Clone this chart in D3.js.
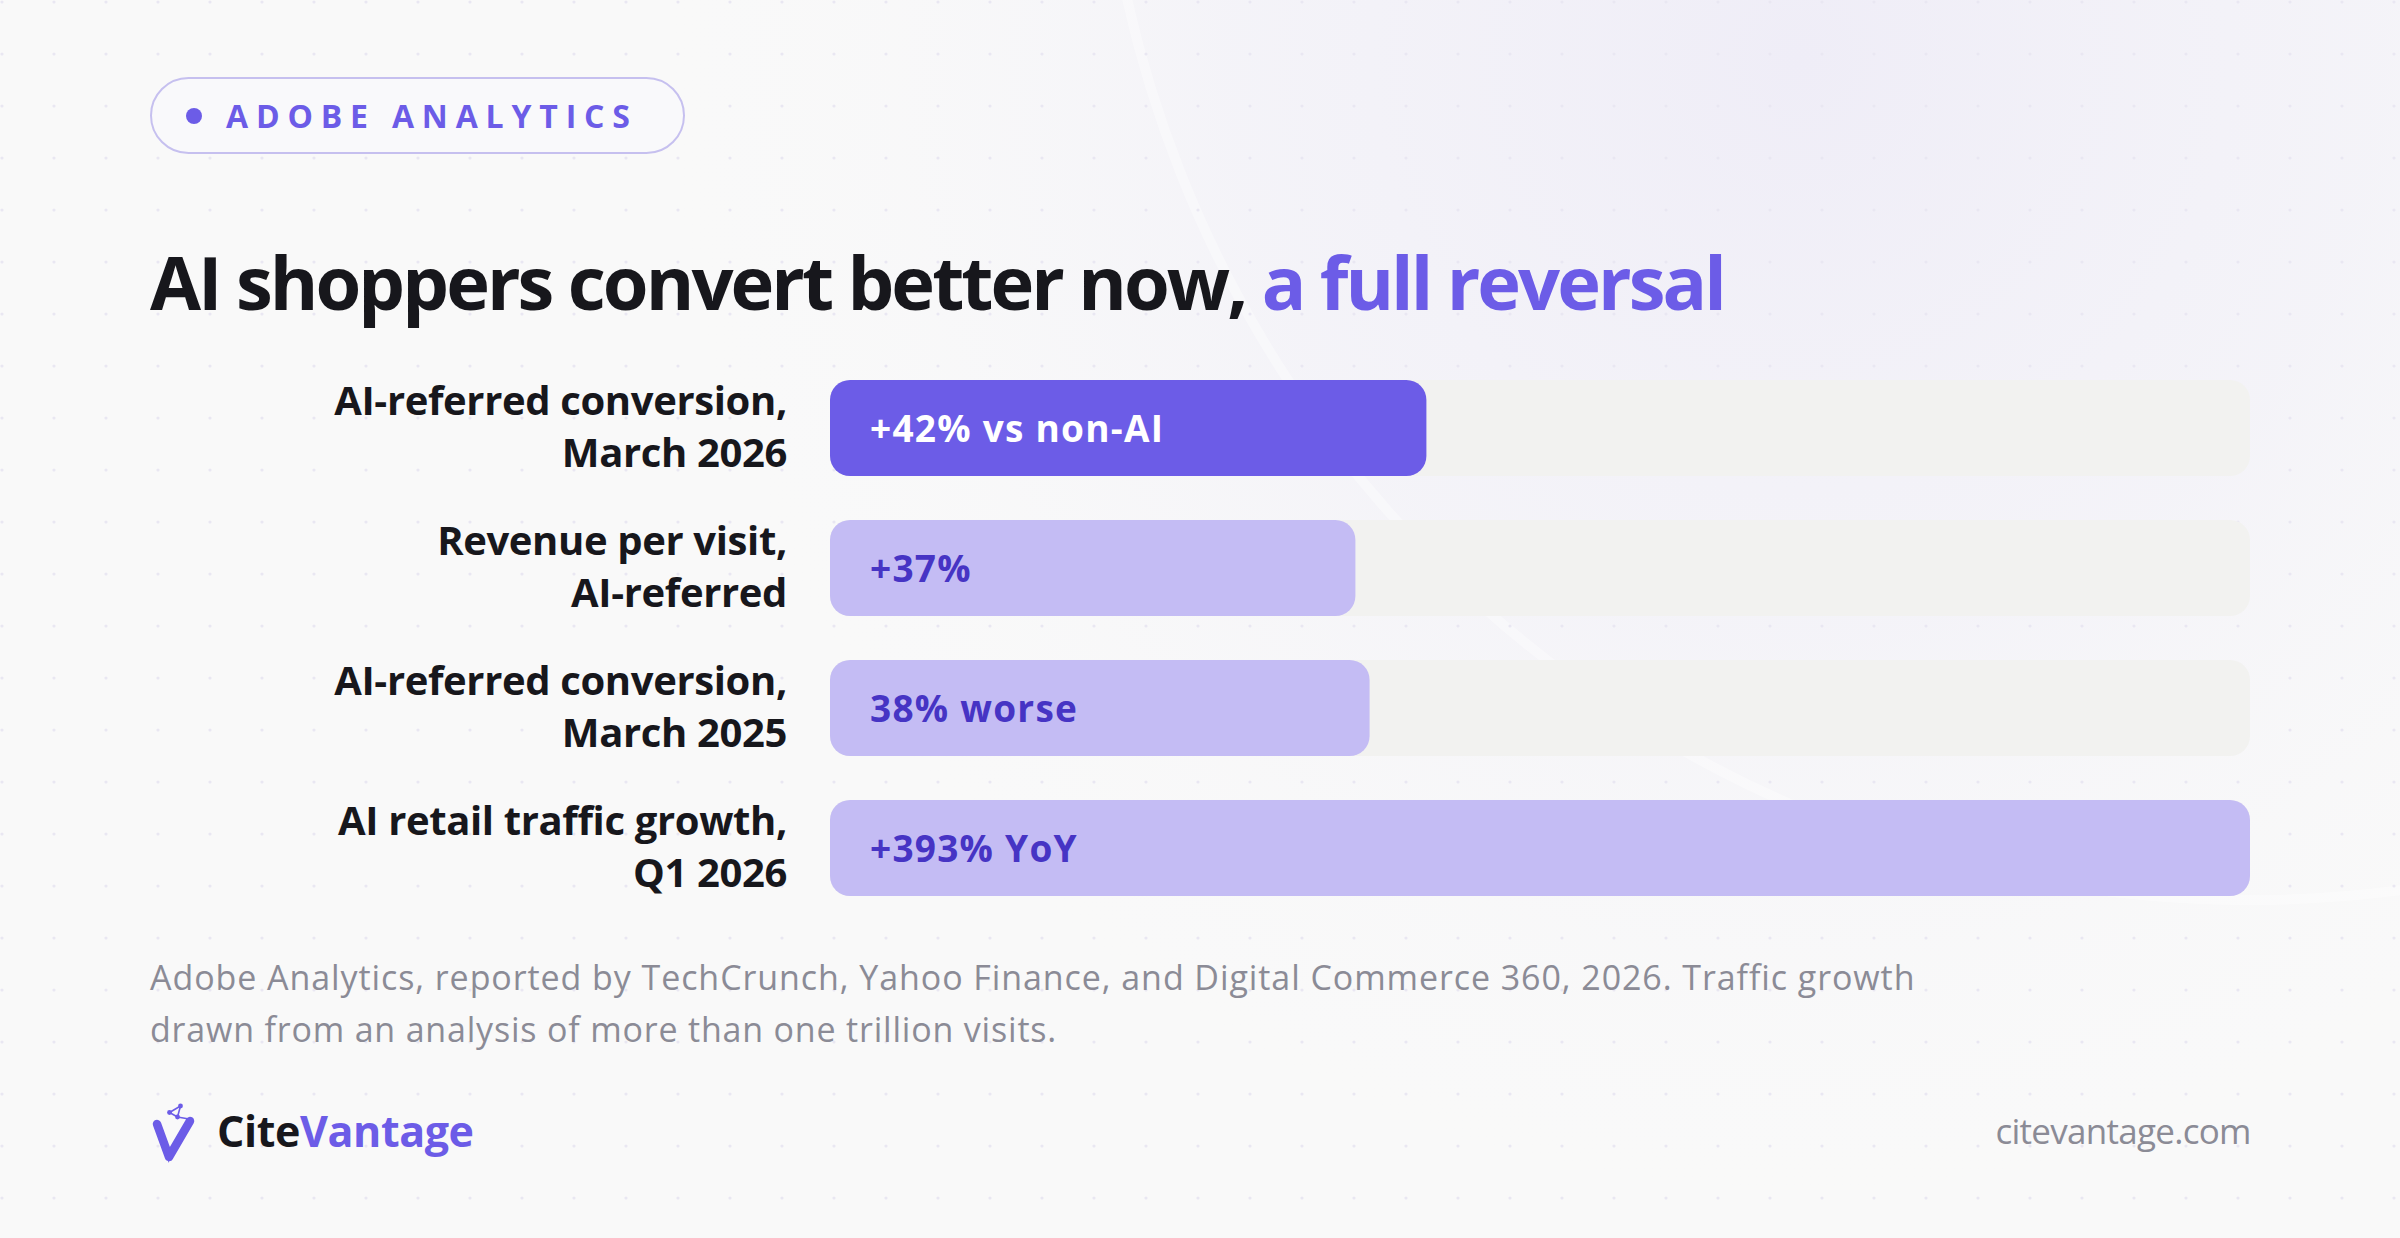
<!DOCTYPE html>
<html><head><meta charset="utf-8">
<script src="https://cdn.jsdelivr.net/npm/d3@7"></script>
<style>html,body{margin:0;padding:0;background:#f9f9f9;} svg{display:block}</style>
</head><body>
<svg id="chart" width="2400" height="1238"></svg>
<script>
// ---------- data ----------
const categories = ["AI-referred conversion, March 2026", "Revenue per visit, AI-referred", "AI-referred conversion, March 2025", "AI retail traffic growth, Q1 2026"];
const labelLines = [["AI-referred conversion,", "March 2026"], ["Revenue per visit,", "AI-referred"], ["AI-referred conversion,", "March 2025"], ["AI retail traffic growth,", "Q1 2026"]];
const values = [42, 37, 38, 393];
const valueLabels = ["+42% vs non-AI", "+37%", "38% worse", "+393% YoY"];
const highlighted = ["AI-referred conversion, March 2026"];
const xDomain = [0, 100];
const badgeText = "ADOBE ANALYTICS";
const titleParts = ["AI shoppers convert better now, ", "a full reversal"];
const footnoteLines = ["Adobe Analytics, reported by TechCrunch, Yahoo Finance, and Digital Commerce 360, 2026. Traffic growth", "drawn from an analysis of more than one trillion visits."];
const brandParts = ["Cite", "Vantage"];
const siteUrl = "citevantage.com";

// ---------- style ----------
const FONT = "'Open Sans', 'Noto Sans', sans-serif";
const C = {bg: "#f9f9f9", dark: "#17171c", purple: "#6c5ce7", light: "#c4bcf4", lightText: "#4634c4", track: "#f2f2f0", gray: "#8b8b96", badgeStroke: "#c6c0ef", dot: "#e9e7f2"};

const svg = d3.select("#chart");
const W = 2400, H = 1238;
const defs = svg.append("defs");

function fitWidth(sel, target) {
  let ls = 0;
  sel.each(function () {
    const len = this.getComputedTextLength();
    const n = this.textContent.length;
    ls = (target - len) / Math.max(1, n - 1);
    d3.select(this).attr("letter-spacing", ls.toFixed(2));
  });
  return ls;
}

// ---------- background ----------
svg.append("rect").attr("width", W).attr("height", H).attr("fill", C.bg);
const rg = defs.append("radialGradient").attr("id", "glow").attr("gradientUnits", "userSpaceOnUse")
  .attr("cx", 1800).attr("cy", 60).attr("r", 1150);
rg.append("stop").attr("offset", 0).attr("stop-color", "#efedf7").attr("stop-opacity", 1);
rg.append("stop").attr("offset", 0.5).attr("stop-color", "#f2f1f8").attr("stop-opacity", 0.7);
rg.append("stop").attr("offset", 1).attr("stop-color", C.bg).attr("stop-opacity", 0);
svg.append("rect").attr("width", W).attr("height", H).attr("fill", "url(#glow)");
svg.append("circle").attr("cx", 2250).attr("cy", -250).attr("r", 1150)
  .attr("fill", "none").attr("stroke", "#ffffff").attr("stroke-opacity", 0.35).attr("stroke-width", 10);

const pat = defs.append("pattern").attr("id", "dots").attr("patternUnits", "userSpaceOnUse")
  .attr("x", -24).attr("y", -24).attr("width", 52).attr("height", 52);
pat.append("circle").attr("cx", 26).attr("cy", 26).attr("r", 1.6).attr("fill", C.dot);
svg.append("rect").attr("width", W).attr("height", H).attr("fill", "url(#dots)");

// ---------- badge ----------
const badge = svg.append("g");
badge.append("rect").attr("x", 151).attr("y", 78).attr("width", 533).attr("height", 75)
  .attr("rx", 37.5).attr("fill", "#f9f9fb").attr("stroke", C.badgeStroke).attr("stroke-width", 2);
badge.append("circle").attr("cx", 194).attr("cy", 116).attr("r", 8).attr("fill", C.purple);
const bt = badge.append("text").attr("x", 226).attr("y", 128).attr("font-family", FONT)
  .attr("font-weight", 700).attr("font-size", 32).attr("fill", C.purple).text(badgeText);
fitWidth(bt, 404);

// ---------- title ----------
const title = svg.append("text").attr("x", 150).attr("y", 310).attr("font-family", FONT)
  .attr("font-weight", 700).attr("font-size", 74);
title.selectAll("tspan").data(titleParts).join("tspan")
  .attr("fill", (d, i) => i === 0 ? C.dark : C.purple).text(d => d);
fitWidth(title, 1577);

// ---------- scales ----------
const x = d3.scaleLinear().domain(xDomain).range([830, 2250]).clamp(true);
const y = d3.scaleBand().domain(categories).range([380, 896]).paddingInner(44 / 140).paddingOuter(0);
const rows = categories.map((c, i) => ({cat: c, lines: labelLines[i], value: values[i], label: valueLabels[i], hi: highlighted.includes(c)}));

const g = svg.append("g");
// tracks
g.selectAll("rect.track").data(rows).join("rect").attr("class", "track")
  .attr("x", x(xDomain[0])).attr("y", d => y(d.cat))
  .attr("width", x(xDomain[1]) - x(xDomain[0])).attr("height", y.bandwidth())
  .attr("rx", 20).attr("fill", C.track);
// bars
g.selectAll("rect.bar").data(rows).join("rect").attr("class", "bar")
  .attr("x", x(0)).attr("y", d => y(d.cat))
  .attr("width", d => x(d.value) - x(0)).attr("height", y.bandwidth())
  .attr("rx", 20).attr("fill", d => d.hi ? C.purple : C.light);
// value labels
const vl = g.selectAll("text.val").data(rows).join("text").attr("class", "val")
  .attr("x", x(0) + 40).attr("y", d => y(d.cat) + y.bandwidth() / 2 + 14)
  .attr("font-family", FONT).attr("font-weight", 700).attr("font-size", 37)
  .attr("fill", d => d.hi ? "#ffffff" : C.lightText).text(d => d.label);
const vls = fitWidth(vl.filter((d, i) => i === 0), 293);
vl.attr("letter-spacing", vls.toFixed(2));
// category labels
const cl = g.selectAll("text.cat").data(rows).join("text").attr("class", "cat")
  .attr("text-anchor", "end").attr("font-family", FONT).attr("font-weight", 700)
  .attr("font-size", 40).attr("fill", C.dark);
cl.selectAll("tspan").data(d => d.lines.map((l, j) => ({l, j, cat: d.cat}))).join("tspan")
  .attr("x", 787).attr("y", d => y(d.cat) + y.bandwidth() / 2 + (d.j === 0 ? -13 : 39)).text(d => d.l);
const probe = svg.append("text").attr("font-family", FONT).attr("font-weight", 700).attr("font-size", 40).text(labelLines[0][0]);
const cls = fitWidth(probe, 453);
probe.remove();
cl.attr("letter-spacing", cls.toFixed(2));

// ---------- footnote ----------
footnoteLines.forEach((t, i) => {
  const ft = svg.append("text").attr("x", 150).attr("y", 990 + i * 52).attr("font-family", FONT)
    .attr("font-size", 34).attr("fill", C.gray).text(t);
  fitWidth(ft, i === 0 ? 1764 : 906);
});

// ---------- footer brand ----------
const logo = svg.append("g");
logo.append("path").attr("d", "M157,1124 L169,1157 L190,1121")
  .attr("fill", "none").attr("stroke", C.purple).attr("stroke-width", 8.5)
  .attr("stroke-linecap", "round").attr("stroke-linejoin", "round");
logo.append("path").attr("d", "M166,1152 L168.5,1163 L172,1152 Z").attr("fill", C.purple);
logo.append("path").attr("d", "M169.5,1112.5 L180.5,1106 L177.5,1117 Z M177.5,1117 L189,1119")
  .attr("fill", "none").attr("stroke", C.purple).attr("stroke-width", 1.6);
[[169.5, 1112.5], [180.5, 1106], [177.5, 1117]].forEach(p =>
  logo.append("circle").attr("cx", p[0]).attr("cy", p[1]).attr("r", 2.4).attr("fill", C.purple));

const brand = svg.append("text").attr("x", 217).attr("y", 1147).attr("font-family", FONT)
  .attr("font-weight", 700).attr("font-size", 43);
brand.selectAll("tspan").data(brandParts).join("tspan")
  .attr("fill", (d, i) => i === 0 ? C.dark : C.purple).text(d => d);
fitWidth(brand, 257);

const url = svg.append("text").attr("x", 2250).attr("y", 1144).attr("text-anchor", "end")
  .attr("font-family", FONT).attr("font-size", 35).attr("fill", C.gray).text(siteUrl);
const uls = fitWidth(url, 256);
url.attr("x", 2250 - uls);
</script>
</body></html>
